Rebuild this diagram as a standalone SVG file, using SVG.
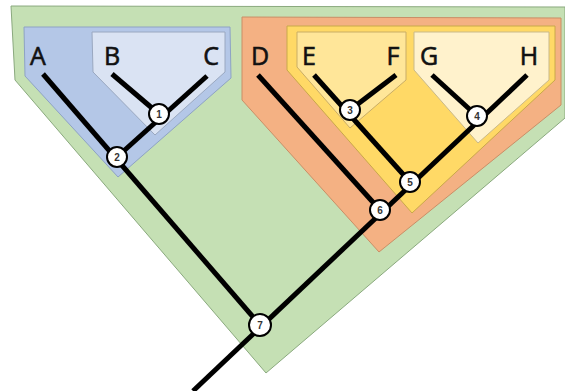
<svg xmlns="http://www.w3.org/2000/svg" width="565" height="391" viewBox="0 0 565 391">
<style>
.lbl{font-family:"Open Sans","Liberation Sans",sans-serif;font-size:25px;fill:#111;stroke:#111;stroke-width:0.6;text-anchor:middle}
.num{font-family:"Liberation Sans",sans-serif;font-size:10px;font-weight:bold;fill:#333;text-anchor:middle}
.edge{stroke:#000;stroke-width:5;fill:none}
.node circle{fill:#fff;stroke:#000;stroke-width:2}
</style>
<g id="clades">
<polygon id="clade-all" points="11,6 565,7 565,118 266,373 15,80" fill="#c5e0b4" stroke="#8aa97e" stroke-width="1"/>
<polygon id="clade-ABC" points="24,27 230,27 231,78 118,177 25,76" fill="#b4c7e7" stroke="#8ea3c4" stroke-width="1"/>
<polygon id="clade-BC" points="92,32 225,32 225,72 155,135 93,72" fill="#dae3f3" stroke="#9aa8c0" stroke-width="1"/>
<polygon id="clade-DH" points="242,17 561,18 561,105 379,252 242,100" fill="#f4b183" stroke="#c98e66" stroke-width="1"/>
<polygon id="clade-EH" points="287,26 555,26 555,80 412,213 287,70" fill="#ffd966" stroke="#c9a84a" stroke-width="1"/>
<polygon id="clade-EF" points="297,32 406,32 406,80 350,128 297,67" fill="#ffe699" stroke="#c9ad66" stroke-width="1"/>
<polygon id="clade-GH" points="414,32 549,32 549,80 478,143 414,70" fill="#fff2cc" stroke="#c9b98a" stroke-width="1"/>
</g>
<g id="connectors">
<line class="edge" x1="43" y1="74" x2="260" y2="325"/>
<line class="edge" x1="112" y1="74" x2="159" y2="114"/>
<line class="edge" x1="207" y1="76" x2="117" y2="157"/>
<line class="edge" x1="258" y1="75" x2="380" y2="210"/>
<line class="edge" x1="314" y1="75" x2="410" y2="182"/>
<line class="edge" x1="396" y1="75" x2="350" y2="110"/>
<line class="edge" x1="432" y1="75" x2="477" y2="116"/>
<line class="edge" x1="527" y1="75" x2="193" y2="391"/>
</g>
<g id="labels">
<text id="A" class="lbl" x="38" y="65">A</text>
<text id="B" class="lbl" x="112" y="65">B</text>
<text id="C" class="lbl" x="211" y="65">C</text>
<text id="D" class="lbl" x="260" y="65">D</text>
<text id="E" class="lbl" x="309" y="65">E</text>
<text id="F" class="lbl" x="393" y="65">F</text>
<text id="G" class="lbl" x="429" y="65">G</text>
<text id="H" class="lbl" x="529" y="65">H</text>
</g>
<g id="n1" class="node"><circle cx="159" cy="114" r="10"/><text class="num" x="159" y="118">1</text></g>
<g id="n2" class="node"><circle cx="117" cy="157" r="10"/><text class="num" x="117" y="161">2</text></g>
<g id="n3" class="node"><circle cx="350" cy="110" r="10"/><text class="num" x="350" y="114">3</text></g>
<g id="n4" class="node"><circle cx="477" cy="116" r="10"/><text class="num" x="477" y="120">4</text></g>
<g id="n5" class="node"><circle cx="410" cy="182" r="10"/><text class="num" x="410" y="186">5</text></g>
<g id="n6" class="node"><circle cx="380" cy="210" r="10"/><text class="num" x="380" y="214">6</text></g>
<g id="n7" class="node"><circle cx="260" cy="325" r="11"/><text class="num" x="260" y="329">7</text></g>
</svg>
